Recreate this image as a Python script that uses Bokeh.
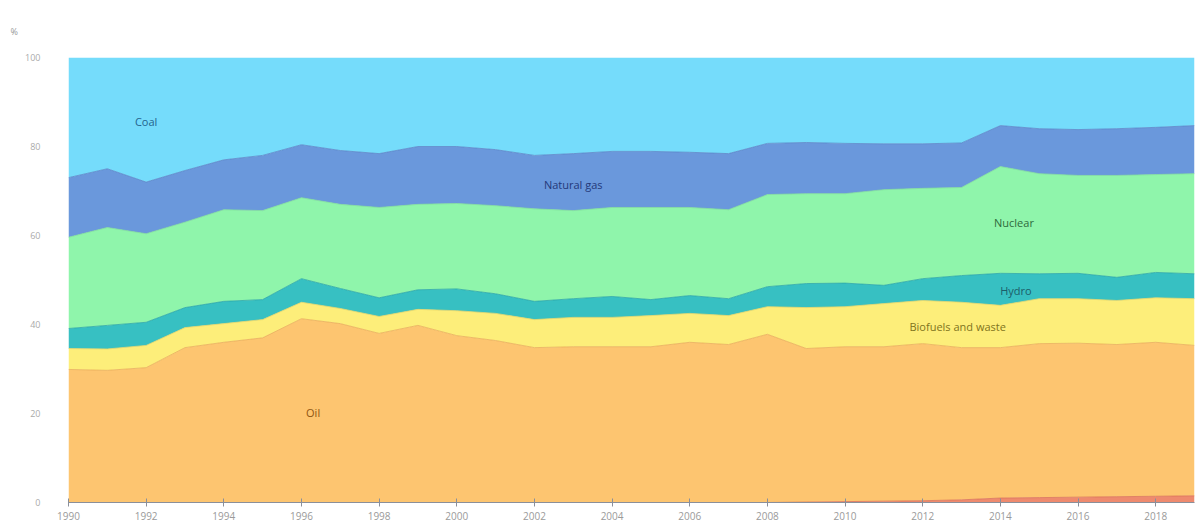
from bokeh.plotting import figure
from bokeh.models import ColumnDataSource, Range1d, Label, FixedTicker, Title
from bokeh.embed import file_html
from bokeh.resources import INLINE

years = list(range(1990, 2020))
solar = [0, 0, 0, 0, 0, 0, 0, 0, 0, 0, 0, 0, 0, 0, 0, 0, 0, 0, 0, 0.1,
         0.2, 0.3, 0.4, 0.6, 1.0, 1.1, 1.2, 1.3, 1.4, 1.5]
oil = [29.9, 29.7, 30.3, 34.8, 36.0, 37.0, 41.3, 40.2, 38.0, 39.8,
       37.5, 36.4, 34.8, 35.0, 35.0, 35.0, 36.0, 35.5, 37.8, 34.5,
       34.8, 34.7, 35.3, 34.2, 33.8, 34.6, 34.6, 34.2, 34.6, 33.8]
biofuels = [4.7, 4.8, 5.0, 4.5, 4.2, 4.1, 3.7, 3.4, 3.8, 3.6,
            5.6, 6.1, 6.3, 6.6, 6.6, 7.0, 6.5, 6.5, 6.2, 9.2,
            9.0, 9.7, 9.7, 10.2, 9.5, 10.1, 10.0, 9.9, 10.0, 10.5]
hydro = [4.5, 5.3, 5.2, 4.5, 5.0, 4.5, 5.3, 4.5, 4.2, 4.4,
         4.9, 4.4, 4.1, 4.2, 4.7, 3.6, 4.0, 3.8, 4.5, 5.4,
         5.3, 4.1, 4.9, 6.0, 7.2, 5.6, 5.7, 5.2, 5.7, 5.6]
nuclear = [20.5, 22.0, 19.9, 19.2, 20.6, 20.0, 18.2, 18.9, 20.3, 19.2,
           19.2, 19.8, 20.8, 19.8, 20.0, 20.7, 19.8, 20.0, 20.7, 20.2,
           20.1, 21.5, 20.3, 19.8, 24.0, 22.5, 22.0, 22.9, 22.0, 22.5]
gas = [13.4, 13.2, 11.6, 11.6, 11.2, 12.4, 11.9, 12.1, 12.1, 13.0,
       12.8, 12.6, 12.0, 12.8, 12.6, 12.6, 12.4, 12.6, 11.5, 11.5,
       11.3, 10.3, 10.0, 10.0, 9.2, 10.1, 10.3, 10.5, 10.6, 10.8]
coal = [27.0, 25.0, 28.0, 25.4, 23.0, 22.0, 19.6, 20.9, 21.6, 20.0,
        20.0, 20.7, 22.0, 21.6, 21.1, 21.1, 21.3, 21.6, 19.3, 19.1,
        19.3, 19.4, 19.4, 19.2, 15.3, 16.0, 16.2, 16.0, 15.7, 15.3]

series = ["solar", "oil", "biofuels", "hydro", "nuclear", "gas", "coal"]
fills = ["#ee8a6e", "#fdc570", "#fdee7a", "#37c0c2", "#8ff5ab", "#6a98dc", "#75dcfb"]
edges = ["#d9725a", "#e9ad5a", "#e8d766", "#2aa6a8", "#7fe09a", "#5b86c8", "#75dcfb"]

label_texts = ["Coal", "Natural gas", "Nuclear", "Hydro", "Biofuels and waste", "Oil"]
label_x = [1992.0, 2003.0, 2014.35, 2014.4, 2012.9, 1996.3]
label_y = [85.6, 71.5, 62.9, 47.6, 39.5, 20.2]
label_colors = ["#24648e", "#24397a", "#2e6b3c", "#1d5e6a", "#7f7420", "#8f5512"]

tick_years = list(range(1990, 2020, 2))
y_ticks = [0, 20, 40, 60, 80, 100]
unit_text = "%"

source = ColumnDataSource(dict(year=years, solar=solar, oil=oil, biofuels=biofuels,
                               hydro=hydro, nuclear=nuclear, gas=gas, coal=coal))

p = figure(width=1203, height=523, output_backend="svg", toolbar_location=None,
           x_range=Range1d(1990, 2019), y_range=Range1d(0, 100),
           min_border_left=68, min_border_right=9, min_border_top=57, min_border_bottom=21)
p.outline_line_color = None
p.background_fill_color = "white"
p.border_fill_color = "white"
p.xgrid.visible = False
p.ygrid.visible = False

p.varea_stack(series, x="year", color=fills, source=source)
p.vline_stack(series[:-1], x="year", color=edges[:-1], line_width=1, line_alpha=0.8, source=source)

for t, lx, ly, c in zip(label_texts, label_x, label_y, label_colors):
    p.add_layout(Label(x=lx, y=ly, text=t, text_color=c, text_font_size="11px",
                       text_font="Open Sans", text_align="center",
                       text_baseline="middle"))

p.add_layout(Title(text=unit_text, align="left", offset=-58, standoff=40,
                   text_font_size="9px", text_color="#999999",
                   text_font="Open Sans", text_font_style="normal"), "above")

xa = p.xaxis[0]
xa.ticker = FixedTicker(ticks=tick_years)
xa.axis_line_color = "#8a8f9a"
xa.major_tick_line_color = "#8a8f9a"
xa.major_tick_in = 4
xa.major_tick_out = 4
xa.minor_tick_line_color = None
xa.major_label_text_font_size = "10px"
xa.major_label_text_color = "#9a9a9a"
xa.major_label_text_font = "Open Sans"
xa.major_label_standoff = 5

ya = p.yaxis[0]
ya.ticker = FixedTicker(ticks=y_ticks)
ya.axis_line_color = None
ya.major_tick_line_color = None
ya.minor_tick_line_color = None
ya.major_label_text_font_size = "9px"
ya.major_label_text_color = "#aaaaaa"
ya.major_label_text_font = "Open Sans"
ya.major_label_standoff = 22

open("out.html", "w").write(file_html(p, INLINE))
